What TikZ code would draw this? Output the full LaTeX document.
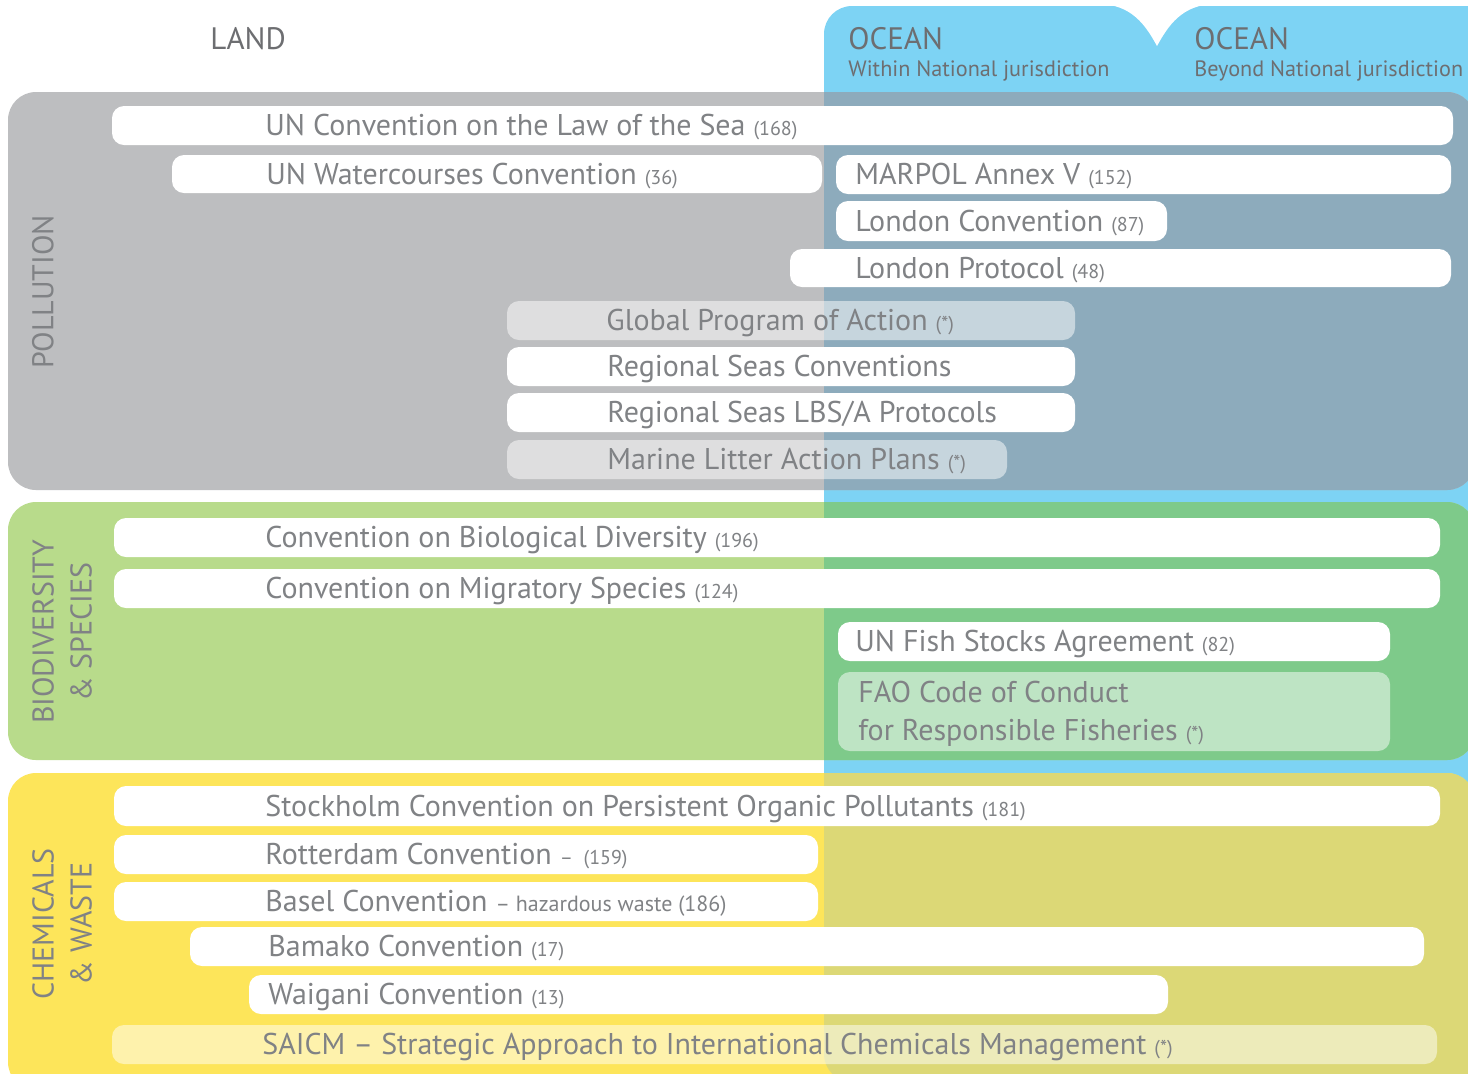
\documentclass[tikz,border=0pt]{standalone}
\usepackage{fontspec}
\setmainfont{PT Sans}
\definecolor{oceanblue}{HTML}{7DD3F4}
\definecolor{grayland}{HTML}{BDBEC0}
\definecolor{grayocean}{HTML}{8DABBC}
\definecolor{greenland}{HTML}{B8DB8B}
\definecolor{greenocean}{HTML}{7ECA8A}
\definecolor{yelland}{HTML}{FDE55A}
\definecolor{yelocean}{HTML}{DCD876}
\definecolor{txtgray}{HTML}{808285}
\definecolor{hdrgray}{HTML}{6D6E71}
\newcommand\nsm[1]{{\fontsize{10}{12}\selectfont #1}}
% #1 style, #2 name, #3 x1, #4 y1, #5 x2, #6 y2, #7 text x, #8 text
\newcommand\tbox[8]{%
  \fill[#1] (#3,#4) rectangle (#5,#6);
  \node[lbl] (#2) at (#7,{(#4+#6)/2+10}) {#8};}
% #1 y1, #2 y2, #3 land colour, #4 ocean colour
\newcommand\secband[4]{%
  \fill[#3, rounded corners=14pt] (8,#1) rectangle (1475,#2);
  \begin{scope}
    \clip[rounded corners=14pt] (824,6) rectangle (1520,1082);
    \fill[#4, rounded corners=14pt] (8,#1) rectangle (1475,#2);
  \end{scope}}
\begin{document}
\begin{tikzpicture}[x=0.5pt,y=-0.5pt,
  wbox/.style={fill=white, rounded corners=6pt},
  tbx/.style={fill=white, fill opacity=0.5, rounded corners=6pt},
  lbl/.style={anchor=base west, inner sep=0pt, text=txtgray, font=\fontsize{15}{18}\selectfont},
  hdr/.style={anchor=base west, inner sep=0pt, text=hdrgray, font=\fontsize{15.5}{18}\selectfont},
  sub/.style={anchor=base west, inner sep=0pt, text=hdrgray, font=\fontsize{11.1}{14}\selectfont},
  side/.style={rotate=90, inner sep=0pt, text=txtgray, align=center, font=\fontsize{15}{19}\selectfont}]
\useasboundingbox (0,0) rectangle (1468,1073);
\fill[white] (0,0) rectangle (1468,1073);
% ocean background
\fill[oceanblue, rounded corners=14pt] (824,6) rectangle (1520,1082);
\fill[white] (1098,4) .. controls (1132,4) and (1146,26) .. (1157,46)
  .. controls (1168,26) and (1182,4) .. (1216,4) -- cycle;
% headers
\node[hdr] (land) at (210,49) {LAND};
\node[hdr] (ocean1) at (848,49) {OCEAN};
\node[sub] (ocean1s) at (848,76) {Within National jurisdiction};
\node[hdr] (ocean2) at (1194,49) {OCEAN};
\node[sub] (ocean2s) at (1194,76) {Beyond National jurisdiction};
% sections
\secband{92}{490}{grayland}{grayocean}
\secband{502}{760}{greenland}{greenocean}
\secband{773}{1090}{yelland}{yelocean}
% side labels
\node[side] (pol) at (43,292) {POLLUTION};
\node[side] (bio) at (62,632) {BIODIVERSITY\\\& SPECIES};
\node[side] (chem) at (62,924) {CHEMICALS\\\& WASTE};
% pollution boxes
\tbox{wbox}{unclos}{112}{106}{1453}{145}{265}{UN Convention on the Law of the Sea \nsm{(168)}}
\tbox{wbox}{unwc}{172}{155}{822}{193}{266}{UN Watercourses Convention \nsm{(36)}}
\tbox{wbox}{marpol}{836}{155}{1451}{194}{855}{MARPOL Annex V \nsm{(152)}}
\tbox{wbox}{londc}{836}{201}{1167}{241}{855}{London Convention \nsm{(87)}}
\tbox{wbox}{londp}{790}{249}{1451}{287}{855}{London Protocol \nsm{(48)}}
\tbox{tbx}{gpa}{507}{301}{1075}{340}{606}{Global Program of Action \nsm{(*)}}
\tbox{wbox}{rsc}{507}{347}{1075}{386}{607}{Regional Seas Conventions}
\tbox{wbox}{rsp}{507}{393}{1075}{432}{607}{Regional Seas LBS/A Protocols}
\tbox{tbx}{mlap}{507}{440}{1007}{479}{607}{Marine Litter Action Plans \nsm{(*)}}
% biodiversity boxes
\tbox{wbox}{cbd}{114}{518}{1440}{557}{265}{Convention on Biological Diversity \nsm{(196)}}
\tbox{wbox}{cms}{114}{569}{1440}{608}{265}{Convention on Migratory Species \nsm{(124)}}
\tbox{wbox}{fsa}{838}{622}{1390}{661}{855}{UN Fish Stocks Agreement \nsm{(82)}}
\fill[tbx] (838,672) rectangle (1390,751);
\node[lbl] (fao1) at (858,702) {FAO Code of Conduct};
\node[lbl] (fao2) at (858,740) {for Responsible Fisheries \nsm{(*)}};
% chemicals boxes
\tbox{wbox}{stock}{114}{786}{1440}{826}{265}{Stockholm Convention on Persistent Organic Pollutants \nsm{(181)}}
\tbox{wbox}{rott}{114}{835}{818}{874}{265}{Rotterdam Convention \nsm{--\ \ (159)}}
\tbox{wbox}{basel}{114}{882}{818}{921}{265}{Basel Convention {\fontsize{11}{13}\selectfont -- hazardous waste (186)}}
\tbox{wbox}{bamako}{190}{927}{1424}{966}{268}{Bamako Convention \nsm{(17)}}
\tbox{wbox}{waigani}{249}{975}{1168}{1014}{268}{Waigani Convention \nsm{(13)}}
\tbox{tbx}{saicm}{112}{1025}{1437}{1064}{262}{SAICM -- Strategic Approach to International Chemicals Management \nsm{(*)}}
\end{tikzpicture}
\end{document}
